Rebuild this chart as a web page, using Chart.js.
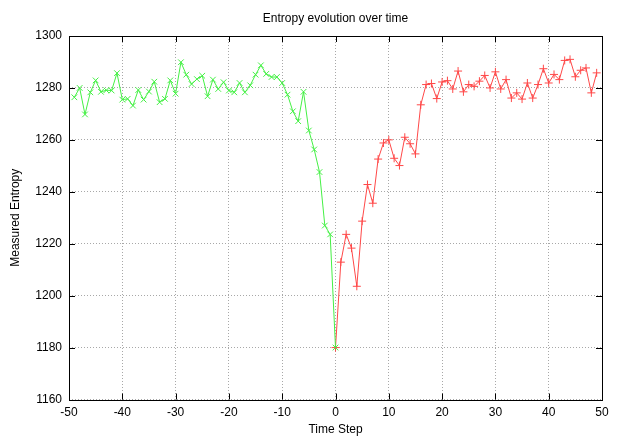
<!DOCTYPE html>
<html>
<head>
<meta charset="utf-8">
<title>Entropy evolution over time</title>
<script src="https://cdn.jsdelivr.net/npm/chart.js@4"></script>
<style>
    html, body { margin: 0; padding: 0; background: #fff; }
    canvas { display: block; }
</style>
</head>
<body>
<canvas id="entropyChart" width="623" height="436"></canvas>
<script>
// Time steps and measured entropy
const beforeSteps = [-49, -48, -47, -46, -45, -44, -43, -42, -41, -40,
    -39, -38, -37, -36, -35, -34, -33, -32, -31, -30,
    -29, -28, -27, -26, -25, -24, -23, -22, -21, -20,
    -19, -18, -17, -16, -15, -14, -13, -12, -11, -10,
    -9, -8, -7, -6, -5, -4, -3, -2, -1, 0];
const beforeEntropy = [1276.4, 1280, 1269.8, 1278.3, 1282.9, 1278.5, 1279.1, 1279, 1285.7, 1275.5,
    1275.8, 1273.2, 1279.2, 1275.5, 1278.6, 1282.4, 1274.5, 1275.8, 1282.9, 1277.8,
    1289.9, 1285.1, 1281.5, 1283.4, 1284.7, 1276.8, 1283.2, 1279.6, 1282.2, 1279,
    1278.3, 1281.9, 1278.3, 1281, 1285.1, 1288.7, 1285.4, 1284.2, 1284.2, 1281.9,
    1277.4, 1271, 1267.2, 1278.5, 1263.6, 1256.3, 1247.6, 1227, 1223.6, 1180];

const afterSteps = [0, 1, 2, 3, 4, 5, 6, 7, 8, 9,
    10, 11, 12, 13, 14, 15, 16, 17, 18, 19,
    20, 21, 22, 23, 24, 25, 26, 27, 28, 29,
    30, 31, 32, 33, 34, 35, 36, 37, 38, 39,
    40, 41, 42, 43, 44, 45, 46, 47, 48, 49];
const afterEntropy = [1180, 1212.9, 1223.6, 1218.3, 1203.6, 1228.7, 1242.8, 1235.6, 1252.6, 1258.8,
    1260, 1252.9, 1250.1, 1261, 1258.5, 1254.6, 1273.5, 1281.3, 1281.7, 1275.9,
    1282.3, 1282.8, 1279.6, 1286.5, 1278.5, 1281.3, 1280.6, 1282.6, 1284.8, 1280,
    1286.2, 1279.6, 1283.2, 1276.1, 1278.1, 1275.7, 1281.9, 1276.1, 1281.3, 1287.4,
    1281.9, 1285.2, 1283.2, 1290.6, 1291, 1284.3, 1286.8, 1287.7, 1278.1, 1285.8];

const xTicks = [-50, -40, -30, -20, -10, 0, 10, 20, 30, 40, 50];
const yTicks = [1160, 1180, 1200, 1220, 1240, 1260, 1280, 1300];

function toPoints(xs, ys) {
    return xs.map((x, i) => ({ x: x, y: ys[i] }));
}

// gnuplot style frame: solid border with short ticks pointing inward on all sides
const framePlugin = {
    id: 'frame',
    afterDraw(chart) {
        const { ctx, chartArea: a, scales } = chart;
        const len = 6;
        ctx.save();
        ctx.strokeStyle = '#000';
        ctx.lineWidth = 1;
        ctx.beginPath();
        scales.x.ticks.forEach(t => {
            const px = Math.round(scales.x.getPixelForValue(t.value)) + 0.5;
            ctx.moveTo(px, a.bottom); ctx.lineTo(px, a.bottom - len);
            ctx.moveTo(px, a.top); ctx.lineTo(px, a.top + len);
        });
        scales.y.ticks.forEach(t => {
            const py = Math.round(scales.y.getPixelForValue(t.value)) + 0.5;
            ctx.moveTo(a.left, py); ctx.lineTo(a.left + len, py);
            ctx.moveTo(a.right, py); ctx.lineTo(a.right - len, py);
        });
        ctx.stroke();
        ctx.strokeRect(Math.round(a.left) + 0.5, Math.round(a.top) + 0.5,
            Math.round(a.right - a.left), Math.round(a.bottom - a.top));
        ctx.restore();
    }
};

Chart.defaults.font.family = '"Liberation Sans", Arial, sans-serif';
Chart.defaults.font.size = 12;
Chart.defaults.color = '#000';

const ctx = document.getElementById('entropyChart').getContext('2d');
new Chart(ctx, {
    type: 'line',
    data: {
        datasets: [{
            data: toPoints(beforeSteps, beforeEntropy),
            borderColor: '#44f044',
            backgroundColor: '#44f044',
            borderWidth: 1,
            pointStyle: 'crossRot',
            pointRadius: 4,
            pointBorderWidth: 1,
            tension: 0
        }, {
            data: toPoints(afterSteps, afterEntropy),
            borderColor: '#ff4848',
            backgroundColor: '#ff4848',
            borderWidth: 1,
            pointStyle: 'cross',
            pointRadius: 4,
            pointBorderWidth: 1,
            tension: 0
        }]
    },
    options: {
        responsive: false,
        animation: false,
        layout: { padding: { left: 0, right: 21, top: 0, bottom: 0 } },
        plugins: {
            legend: { display: false },
            tooltip: { enabled: false },
            title: {
                display: true,
                text: 'Entropy evolution over time',
                fullSize: false,
                font: { size: 12, weight: 'normal' },
                padding: { top: 11, bottom: 10.6 }
            }
        },
        scales: {
            x: {
                type: 'linear',
                min: -50,
                max: 50,
                afterFit(scale) { scale.height = 36.5; },
                afterBuildTicks(scale) { scale.ticks = xTicks.map(v => ({ value: v })); },
                ticks: { padding: 6, maxRotation: 0, callback: v => String(v) },
                grid: { color: '#a8a8a8', drawTicks: false },
                border: { display: false, dash: [1, 2] },
                title: { display: true, text: 'Time Step', padding: { top: 0, bottom: -1 } }
            },
            y: {
                type: 'linear',
                min: 1160,
                max: 1300,
                afterFit(scale) { scale.width = 69; },
                afterBuildTicks(scale) { scale.ticks = yTicks.map(v => ({ value: v })); },
                ticks: { padding: 7, callback: v => String(v) },
                grid: { color: '#a8a8a8', drawTicks: false },
                border: { display: false, dash: [1, 2] },
                title: { display: true, text: 'Measured Entropy', padding: { top: 8.8, bottom: 0 } }
            }
        }
    },
    plugins: [framePlugin]
});
</script>
</body>
</html>
